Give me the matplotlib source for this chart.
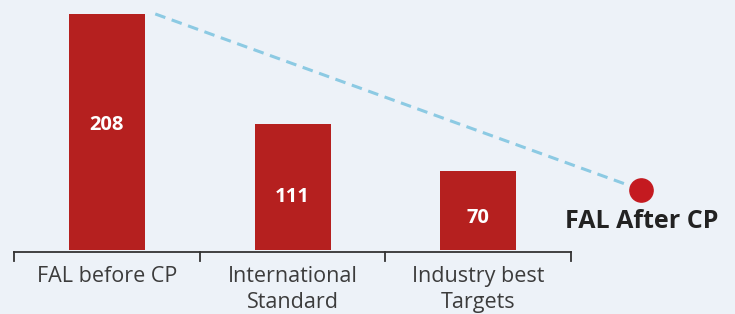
import matplotlib.pyplot as plt

plt.rcParams['font.family'] = ['Open Sans', 'DejaVu Sans']

categories = ["FAL before CP", "International\nStandard", "Industry best\nTargets"]
values = [208, 111, 70]
after_label = "FAL After CP"
after_value = 53
after_pos = 2.88

# where the white value label sits, as a fraction of the bar height
label_frac = [0.53, 0.42, 0.40]

bar_color = "#b5201f"
bg = "#edf2f8"

fig = plt.figure(figsize=(7.35, 3.14), dpi=100)
fig.patch.set_facecolor(bg)
ax = fig.add_axes([0, 0, 1, 1])
ax.set_facecolor(bg)

x = list(range(len(values)))
ax.bar(x, values, width=0.41, color=bar_color, zorder=2)

for xi, v, f in zip(x, values, label_frac):
    ax.text(xi, v * f, str(v), ha="center", va="center",
            color="white", fontsize=14.5, fontweight="bold", zorder=3)

# dashed trend from first bar to the post-CP point
ax.plot([x[0] + 0.26, after_pos], [values[0], after_value], ls=(0, (3.5, 2.2)),
        color="#8ccae3", lw=2.2, zorder=1)
ax.scatter([after_pos], [after_value], s=280, color="#c41a20", zorder=4)
ax.text(after_pos, after_value - 28, after_label, ha="center", va="center",
        fontsize=18, fontweight="bold", color="#222222")

# bracket style category axis
ax.plot([-0.5, 2.5], [-1.8, -1.8], color="#333333", lw=1.3, zorder=3)
for t in [-0.5, 0.5, 1.5, 2.5]:
    ax.plot([t, t], [-1.8, -10], color="#333333", lw=1.3, zorder=3)
for xi, c in zip(x, categories):
    ax.text(xi, -14, c, ha="center", va="top", fontsize=15.5, color="#3c3c3c",
            linespacing=1.3)

ax.set_xlim(-0.577, 3.385)
ax.set_ylim(-56.4, 220.3)
ax.axis("off")

fig.savefig("out.png", dpi=100, facecolor=bg)
